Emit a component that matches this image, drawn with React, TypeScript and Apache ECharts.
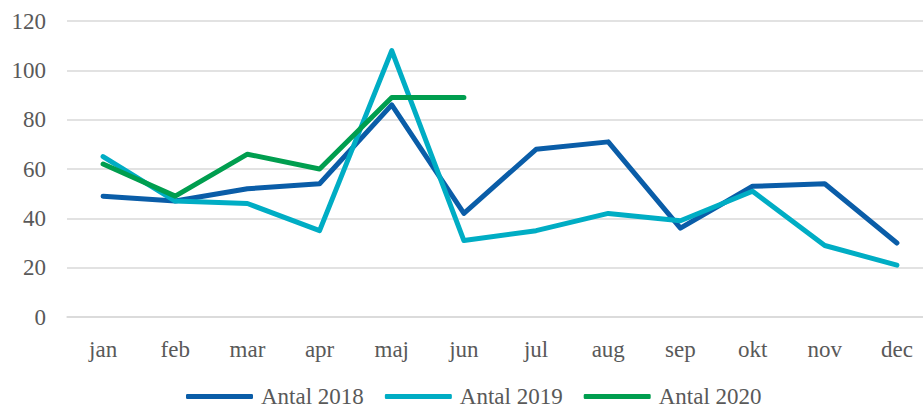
import React, { useEffect, useRef } from "react";
import * as echarts from "echarts";

const months = ["jan", "feb", "mar", "apr", "maj", "jun", "jul", "aug", "sep", "okt", "nov", "dec"];
const antal2018 = [49, 47, 52, 54, 86, 42, 68, 71, 36, 53, 54, 30];
const antal2019 = [65, 47, 46, 35, 108, 31, 35, 42, 39, 51, 29, 21];
const antal2020 = [62, 49, 66, 60, 89, 89];
const seriesNames = ["Antal 2018", "Antal 2019", "Antal 2020"];
const colors = ["#0A5DA8", "#00ADC4", "#009E4F"];

export default function App() {
  const ref = useRef<HTMLDivElement>(null);
  useEffect(() => {
    if (!ref.current) return;
    const chart = echarts.init(ref.current, null, { renderer: "svg" });
    const font = "'Liberation Serif', 'Times New Roman', serif";
    const datasets = [antal2018, antal2019, antal2020];
    chart.setOption({
      animation: false,
      textStyle: { fontFamily: font },
      grid: { left: 67, width: 866, top: 21, bottom: 91, containLabel: false, outerBoundsMode: "none" },
      legend: {
        left: 181,
        top: 380,
        itemWidth: 67,
        itemHeight: 5,
        itemGap: 21,
        icon: "roundRect",
        textStyle: { fontFamily: font, fontSize: 23, color: "#595959", padding: [0, 0, 0, 3] },
        data: seriesNames,
      },
      xAxis: {
        type: "category",
        data: months,
        boundaryGap: true,
        axisLine: { show: true, lineStyle: { color: "#D9D9D9", width: 1.5 } },
        axisTick: { show: false },
        axisLabel: { fontFamily: font, fontSize: 23, color: "#595959", margin: 21 },
      },
      yAxis: {
        type: "value",
        min: 0,
        max: 120,
        interval: 20,
        axisLine: { show: false },
        axisTick: { show: false },
        axisLabel: { fontFamily: font, fontSize: 23, color: "#595959", margin: 21 },
        splitLine: { lineStyle: { color: "#D9D9D9", width: 1.5 } },
      },
      series: seriesNames.map((name, i) => ({
        name,
        type: "line",
        data: datasets[i],
        symbol: "none",
        color: colors[i],
        lineStyle: { width: 5, color: colors[i], cap: "round", join: "round" },
      })),
    });
    return () => chart.dispose();
  }, []);
  return <div ref={ref} style={{ width: 923, height: 408, position: "absolute", left: 0, top: 0 }} />;
}
